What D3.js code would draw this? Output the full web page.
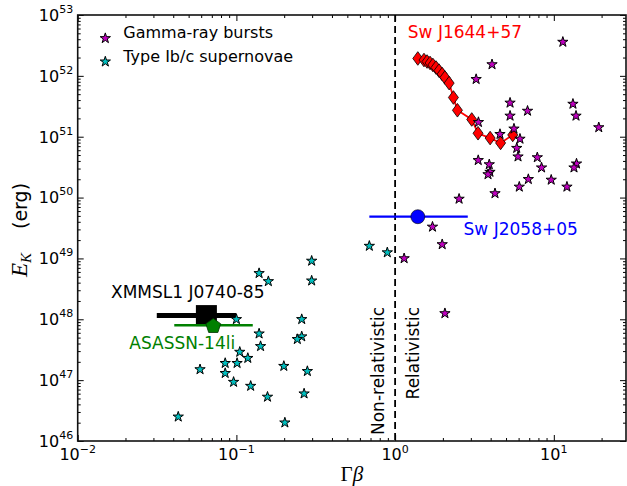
<!DOCTYPE html>
<html>
<head>
<meta charset="utf-8">
<script src="https://cdn.jsdelivr.net/npm/d3@7"></script>
<style>
body { margin: 0; background: #fff; }
#canvas { width: 627px; height: 486px; }
text { font-family: "DejaVu Sans", sans-serif; }
</style>
</head>
<body>
<div id="canvas" class="canvas"></div>
<script>
// Type Ib/c supernovae (cyan stars)
var snGB = [0.298,0.298,0.139,0.159,0.100,0.258,0.139,0.142,0.258,0.242,0.105,0.118,0.085,0.101,0.059,0.085,0.199,0.280,0.096,0.123,0.157,0.267,0.043,0.202,0.688,0.893];
var snEk = [9.1e48,4.3e48,5.7e48,4.2e48,1.0e48,1.0e48,5.8e47,3.6e47,5.2e47,4.7e47,2.9e47,2.3e47,1.9e47,1.9e47,1.5e47,1.3e47,1.7e47,1.4e47,9.3e46,8.0e46,5.3e46,6.0e46,2.5e46,2.0e46,1.6e49,1.25e49];

// Gamma-ray bursts (magenta stars)
var grbGB = [11.4,4.08,3.24,5.30,6.83,13.2,13.8,5.30,19.2,3.35,4.58,5.61,6.12,5.84,5.95,7.87,8.37,3.34,3.92,3.96,3.85,13.9,13.4,6.91,9.63,6.06,12.1,4.26,2.53,1.72,1.98,1.14,2.06];
var grbEk = [3.6e52,1.54e52,8.8e51,3.6e51,2.65e51,3.45e51,2.2e51,2.2e51,1.42e51,1.73e51,1.1e51,1.35e51,9.2e50,6.5e50,4.7e50,4.56e50,3.1e50,4.1e50,3.5e50,2.63e50,2.4e50,3.6e50,3.1e50,2.0e50,1.95e50,1.5e50,1.5e50,1.17e50,9.5e49,3.3e49,1.7e49,1.0e49,1.25e48];

// Sw J1644+57
var j1644GB = [1.39,1.52,1.59,1.66,1.73,1.81,1.89,1.98,2.06,2.19,2.33,2.47,3.04,3.33,3.97,4.62,5.51];
var j1644Ek = [1.93e52,1.82e52,1.72e52,1.63e52,1.51e52,1.37e52,1.22e52,1.07e52,9.4e51,7.6e51,4.41e51,2.72e51,1.92e51,1.14e51,9.5e50,7.9e50,1.07e51];

// single events: [Gamma beta, low, high, E_K]
var j2058 = [1.39, 0.688, 2.87, 4.85e49];
var xmmsl1 = [0.0647, 0.0315, 0.100, 1.15e48];
var asassn = [0.0715, 0.0406, 0.1268, 8.0e47];

var xMajor = [0.01, 0.1, 1, 10];
var xMajorExp = ['\u22122', '\u22121', '0', '1'];
var yMajor = [1e46, 1e47, 1e48, 1e49, 1e50, 1e51, 1e52, 1e53];
var yMajorExp = ['46', '47', '48', '49', '50', '51', '52', '53'];

var m = {t:15, r:1, b:45, l:77.7},
    w = 627 - m.l - m.r,
    h = 486 - m.t - m.b;

var svg = d3.select('.canvas')
    .append('svg')
    .attr('width', 627)
    .attr('height', 486);

var plot = svg.append('g')
    .attr('transform', 'translate(' + m.l + ',' + m.t + ')');

var x = d3.scaleLog().domain([0.01, 28.5]).range([0, w]);
var y = d3.scaleLog().domain([1e46, 1e53]).range([h, 0]);

var isMajor = function(v){ return Math.abs(Math.log10(v) - Math.round(Math.log10(v))) < 1e-6; };
var xTicks = x.ticks(), yTicks = y.ticks();

// ticks on all four sides, pointing in
function tickAxis(axisFn, scale, vals, len, tr){
    var g = plot.append('g').attr('transform', tr)
        .call(axisFn(scale).tickValues(vals).tickSize(-len).tickFormat(''));
    g.select('.domain').remove();
    g.selectAll('line').attr('stroke', '#000').attr('stroke-width', 1);
}
[[d3.axisBottom, x, xTicks, 'translate(0,' + h + ')'],
 [d3.axisTop, x, xTicks, 'translate(0,0)'],
 [d3.axisLeft, y, yTicks, 'translate(0,0)'],
 [d3.axisRight, y, yTicks, 'translate(' + w + ',0)']].forEach(function(a){
    tickAxis(a[0], a[1], a[2].filter(function(v){ return !isMajor(v); }), 3, a[3]);
    tickAxis(a[0], a[1], a[2].filter(isMajor), 6, a[3]);
});

plot.append('rect')
    .attr('width', w).attr('height', h)
    .attr('fill', 'none').attr('stroke', '#111').attr('stroke-width', 1.6);

// tick labels
xMajor.forEach(function(v, i){
    var t = plot.append('text')
        .attr('x', x(v)).attr('y', h + 19)
        .attr('text-anchor', 'middle')
        .attr('font-size', 16);
    t.append('tspan').text('10');
    t.append('tspan').attr('dy', -7).attr('font-size', 11).text(xMajorExp[i]);
});
yMajor.forEach(function(v, i){
    var t = plot.append('text')
        .attr('x', -4.5).attr('y', y(v) + 5.8)
        .attr('text-anchor', 'end')
        .attr('font-size', 16);
    t.append('tspan').text('10');
    t.append('tspan').attr('dy', -8).attr('font-size', 11).text(yMajorExp[i]);
});

// axis titles
var xl = svg.append('text')
    .attr('x', m.l + w / 2).attr('y', 480.5)
    .attr('text-anchor', 'middle')
    .style('font-family', '"Liberation Serif", serif')
    .attr('font-size', 21);
xl.append('tspan').text('\u0393');
xl.append('tspan').attr('font-style', 'italic').text('\u03b2');

var yl = svg.append('text')
    .attr('transform', 'translate(26.5,' + (m.t + h / 2 + 2) + ') rotate(-90)')
    .attr('text-anchor', 'middle');
yl.append('tspan').style('font-family', '"Liberation Serif", serif').attr('font-style', 'italic').attr('font-size', 23).text('E');
yl.append('tspan').style('font-family', '"Liberation Serif", serif').attr('font-style', 'italic').attr('font-size', 15).attr('dy', 4).text('K');
yl.append('tspan').attr('font-size', 19).attr('dy', -4).attr('dx', 24).text('(erg)');

// relativistic divide
plot.append('line')
    .attr('x1', x(1)).attr('x2', x(1))
    .attr('y1', 0).attr('y2', h)
    .attr('stroke', '#000').attr('stroke-width', 1.8)
    .attr('stroke-dasharray', '7,4');

plot.append('text')
    .attr('transform', 'translate(' + (x(1) - 11) + ',292) rotate(-90)')
    .attr('text-anchor', 'end').attr('font-size', 17)
    .text('Non-relativistic');
plot.append('text')
    .attr('transform', 'translate(' + (x(1) + 24) + ',292) rotate(-90)')
    .attr('text-anchor', 'end').attr('font-size', 17)
    .text('Relativistic');

// Sw J1644+57
var j1644 = j1644GB.map(function(d, i){ return [d, j1644Ek[i]]; });
plot.append('path')
    .datum(j1644)
    .attr('d', d3.line().x(function(d){ return x(d[0]); }).y(function(d){ return y(d[1]); }))
    .attr('fill', 'none').attr('stroke', '#f00').attr('stroke-width', 1.8);
plot.selectAll('.dia')
    .data(j1644)
    .enter()
    .append('path')
    .attr('class', 'dia')
    .attr('d', 'M0,-6.8L5,0L0,6.8L-5,0Z')
    .attr('transform', function(d){ return 'translate(' + x(d[0]) + ',' + y(d[1]) + ')'; })
    .attr('fill', '#f00').attr('stroke', '#000').attr('stroke-width', 0.8);
plot.append('text')
    .attr('x', x(j1644GB[0]) - 10).attr('y', y(j1644Ek[0]) - 20.8)
    .attr('fill', '#f00').attr('font-size', 17)
    .text('Sw J1644+57');

// Sw J2058+05
plot.append('line')
    .attr('x1', x(j2058[1])).attr('x2', x(j2058[2]))
    .attr('y1', y(j2058[3])).attr('y2', y(j2058[3]))
    .attr('stroke', '#00f').attr('stroke-width', 2.2);
plot.append('circle')
    .attr('cx', x(j2058[0])).attr('cy', y(j2058[3])).attr('r', 7)
    .attr('fill', '#00f').attr('stroke', '#000').attr('stroke-width', 0.6);
plot.append('text')
    .attr('x', x(j2058[2]) - 4.2).attr('y', y(j2058[3]) + 18)
    .attr('fill', '#00f').attr('font-size', 17)
    .text('Sw J2058+05');

// XMMSL1 J0740-85
plot.append('line')
    .attr('x1', x(xmmsl1[1])).attr('x2', x(xmmsl1[2]))
    .attr('y1', y(xmmsl1[3])).attr('y2', y(xmmsl1[3]))
    .attr('stroke', '#000').attr('stroke-width', 5);
plot.append('rect')
    .attr('x', x(xmmsl1[0]) - 10.5).attr('y', y(xmmsl1[3]) - 10.5)
    .attr('width', 21).attr('height', 21)
    .attr('fill', '#000');
plot.append('text')
    .attr('x', x(xmmsl1[0]) - 95.4).attr('y', y(xmmsl1[3]) - 17.3)
    .attr('fill', '#000').attr('font-size', 17)
    .text('XMMSL1 J0740-85');

// ASASSN-14li
plot.append('line')
    .attr('x1', x(asassn[1])).attr('x2', x(asassn[2]))
    .attr('y1', y(asassn[3])).attr('y2', y(asassn[3]))
    .attr('stroke', '#008000').attr('stroke-width', 2.5);
plot.append('path')
    .attr('d', function(){
        var r = 7.8, p = [];
        for (var k = 0; k < 5; k++) {
            var a = -Math.PI / 2 + k * 2 * Math.PI / 5;
            p.push([r * Math.cos(a), r * Math.sin(a)]);
        }
        return 'M' + p.join('L') + 'Z';
    })
    .attr('transform', 'translate(' + x(asassn[0]) + ',' + (y(asassn[3]) + 1) + ')')
    .attr('fill', '#008000').attr('stroke', '#003300').attr('stroke-width', 0.8);
plot.append('text')
    .attr('x', x(asassn[0]) - 84).attr('y', y(asassn[3]) + 24)
    .attr('fill', '#008000').attr('font-size', 17)
    .text('ASASSN-14li');

// stars
var star = d3.symbol().type(d3.symbolStar).size(33);
function drawStars(gb, ek, color){
    plot.selectAll(null)
        .data(gb.map(function(d, i){ return [d, ek[i]]; }))
        .enter()
        .append('path')
        .attr('d', star)
        .attr('transform', function(d){ return 'translate(' + x(d[0]) + ',' + y(d[1]) + ')'; })
        .attr('fill', color).attr('stroke', '#000').attr('stroke-width', 1);
}
drawStars(snGB, snEk, '#00bfbf');
drawStars(grbGB, grbEk, '#bf00bf');

// legend
var legend = [['Gamma-ray bursts', '#bf00bf'], ['Type Ib/c supernovae', '#00bfbf']];
legend.forEach(function(l, i){
    var ly = 38.3 + i * 23.4;
    svg.append('path')
        .attr('d', star)
        .attr('transform', 'translate(105.3,' + ly + ')')
        .attr('fill', l[1]).attr('stroke', '#000').attr('stroke-width', 1);
    svg.append('text')
        .attr('x', 123.3).attr('y', ly)
        .attr('font-size', 16)
        .text(l[0]);
});
</script>
</body>
</html>
